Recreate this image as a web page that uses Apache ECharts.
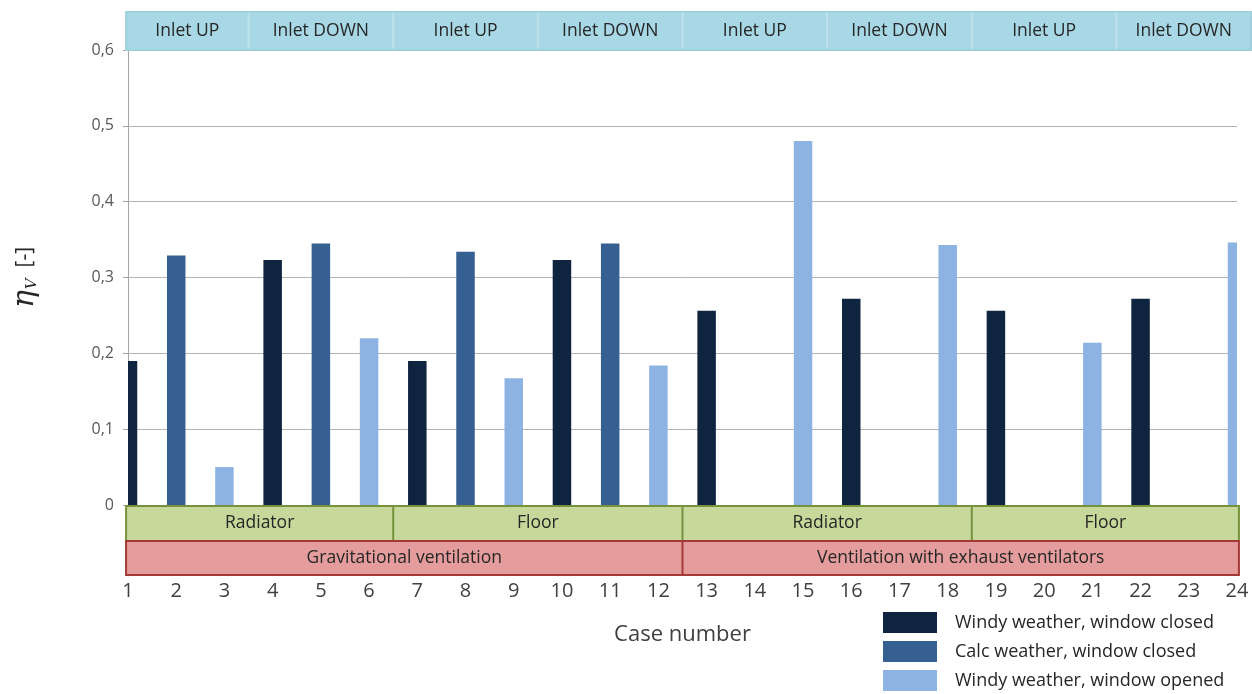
<!DOCTYPE html>
<html><head><meta charset="utf-8">
<script src="https://cdn.jsdelivr.net/npm/echarts@6/dist/echarts.min.js"></script>
<style>html,body{margin:0;padding:0;background:#fff}#c{width:1252px;height:694px}</style>
</head><body><div id="c"></div>
<script>
// ---- data ----
const cases = [1,2,3,4,5,6,7,8,9,10,11,12,13,14,15,16,17,18,19,20,21,22,23,24];
const windyClosed = [0.19,null,null,0.323,null,null,0.19,null,null,0.323,null,null,0.256,null,null,0.272,null,null,0.256,null,null,0.272,null,null];
const calcClosed  = [null,0.329,null,null,0.345,null,null,0.334,null,null,0.345,null,null,null,null,null,null,null,null,null,null,null,null,null];
const windyOpened = [null,null,0.05,null,null,0.22,null,null,0.167,null,null,0.184,null,null,0.48,null,null,0.343,null,null,0.214,null,null,0.346];
const seriesNames = ['Windy weather, window closed','Calc weather, window closed','Windy weather, window opened'];
const inletLabels = ['Inlet UP','Inlet DOWN','Inlet UP','Inlet DOWN','Inlet UP','Inlet DOWN','Inlet UP','Inlet DOWN'];
const heatingLabels = ['Radiator','Floor','Radiator','Floor'];
const ventLabels = ['Gravitational ventilation','Ventilation with exhaust ventilators'];
const yMin = 0, yMax = 0.6, yStep = 0.1;

// ---- layout (case-unit edges of the annotation bands) ----
const inletEdges = [0.96,3.5,6.5,9.5,12.5,15.5,18.5,21.5,24.29];
const heatingEdges = [0.96,6.5,12.5,18.5,24.04];
const ventEdges = [0.96,12.5,24.04];
const colors = ['#0f243e','#376092','#8db3e2'];
const FONT = 'Open Sans';
const BAR_W = 18.5;

function pairs(arr){ return cases.map((c,i)=>[c,arr[i]]).filter(p=>p[1]!==null); }

const chart = echarts.init(document.getElementById('c'));
const mkSeries = (name, arr, color) => ({
  name, type:'custom', data: pairs(arr), encode:{x:0, y:1},
  itemStyle:{color},
  renderItem:(params, api) => {
    const x = api.value(0), y = api.value(1);
    const p0 = api.coord([x, 0]), p1 = api.coord([x, y]);
    const cs = params.coordSys;
    const r = echarts.graphic.clipRectByRect(
      {x:p1[0]-BAR_W/2, y:p1[1], width:BAR_W, height:p0[1]-p1[1]},
      {x:cs.x, y:cs.y, width:cs.width, height:cs.height});
    return r && {type:'rect', shape:r, style:{fill:color}};
  }
});
chart.setOption({
  animation:false,
  grid:{left:128, right:15, top:50, bottom:189, containLabel:false},
  xAxis:{type:'value', min:1, max:24, interval:1,
    axisLine:{show:false}, axisTick:{show:false}, splitLine:{show:false},
    axisLabel:{margin:76, fontSize:20, color:'#404040', fontFamily:FONT},
    name:'Case number', nameLocation:'middle', nameGap:119,
    nameTextStyle:{fontSize:22, color:'#404040', fontFamily:FONT}
  },
  yAxis:{type:'value', min:yMin, max:yMax, interval:yStep,
    axisLine:{show:true, lineStyle:{color:'#a6a6a6'}},
    axisTick:{show:true, length:5, lineStyle:{color:'#a6a6a6'}},
    splitLine:{show:true, lineStyle:{color:'#b3b3b3'}},
    axisLabel:{margin:14, fontSize:16, color:'#595959', fontFamily:FONT,
      formatter:v=> v===0 ? '0' : v.toFixed(1).replace('.',',')},
    name:'{eta|η}{sub|V}{br|  [-]}', nameLocation:'middle', nameGap:88, nameRotate:90,
    nameTextStyle:{rich:{
      eta:{fontFamily:'DejaVu Serif', fontStyle:'italic', fontSize:30, color:'#262626'},
      sub:{fontFamily:'DejaVu Serif', fontStyle:'italic', fontSize:15, color:'#262626', verticalAlign:'bottom', padding:[12,0,0,1]},
      br:{fontFamily:FONT, fontSize:21, color:'#262626'}
    }}
  },
  legend:{orient:'vertical', left:883, top:612, padding:0, itemWidth:54, itemHeight:21, itemGap:8,
    icon:'rect', data:seriesNames, selectedMode:false,
    textStyle:{fontSize:18, color:'#262626', fontFamily:FONT, padding:[0,0,0,13]}},
  series:[
    mkSeries(seriesNames[0], windyClosed, colors[0]),
    mkSeries(seriesNames[1], calcClosed, colors[1]),
    mkSeries(seriesNames[2], windyOpened, colors[2])
  ]
});

// ---- annotation bands, positioned via the axis scales ----
const px = v => chart.convertToPixel({xAxisIndex:0}, v);
const py = v => chart.convertToPixel({yAxisIndex:0}, v);
const yTop = py(yMax), yZero = py(0);
const g = [];
function band(edges, labels, y0, h, fill, stroke, sepColor, fontSize){
  const x0 = px(edges[0]), x1 = px(edges[edges.length-1]);
  g.push({type:'rect', shape:{x:x0, y:y0, width:x1-x0, height:h},
    style:{fill, stroke, lineWidth:2}, silent:true, z:10});
  for(let i=1;i<edges.length-1;i++){
    const xs = px(edges[i]);
    g.push({type:'line', shape:{x1:xs,y1:y0+1,x2:xs,y2:y0+h-1}, style:{stroke:sepColor, lineWidth:2}, silent:true, z:11});
  }
  labels.forEach((t,i)=>{
    const a = px(edges[i]), b = px(edges[i+1]);
    g.push({type:'text', x:(a+b)/2, y:y0+h/2, style:{text:t, fontSize, fill:'#262626', fontFamily:FONT,
      align:'center', verticalAlign:'middle'}, silent:true, z:12});
  });
}
band(inletEdges, inletLabels, yTop-38, 38, '#a8d7e5', '#9fd0de', '#bfe3ec', 17.5);
band(heatingEdges, heatingLabels, yZero+1, 35, '#c6d89a', '#76923c', '#76923c', 17.5);
band(ventEdges, ventLabels, yZero+36, 34, '#e49c9c', '#a33a38', '#a33a38', 17.5);
chart.setOption({graphic:g});
</script></body></html>
